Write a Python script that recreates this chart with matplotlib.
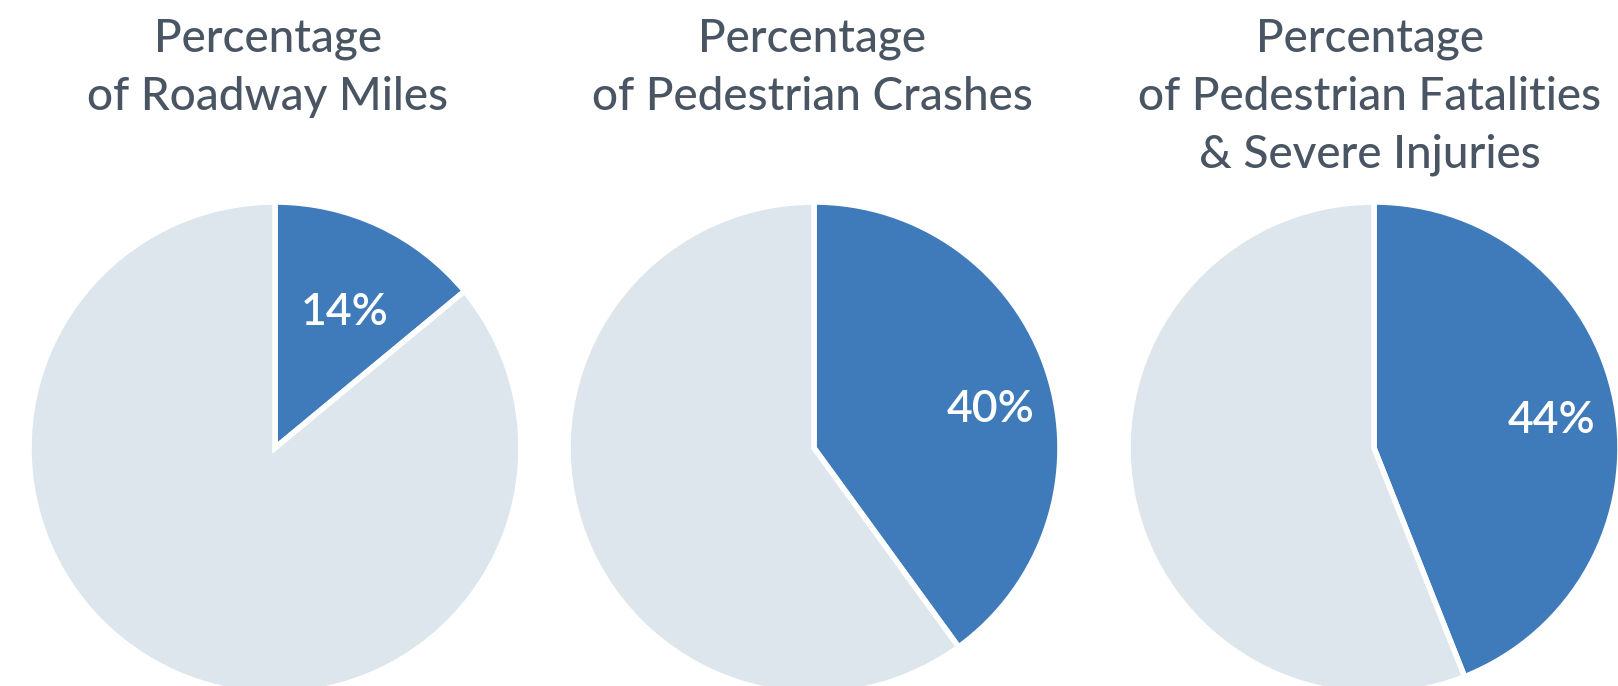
import matplotlib.pyplot as plt

plt.rcParams['font.family'] = ['Lato', 'DejaVu Sans']

titles = ['Percentage\nof Roadway Miles',
          'Percentage\nof Pedestrian Crashes',
          'Percentage\nof Pedestrian Fatalities\n& Severe Injuries']
shares = [14, 40, 44]
labels = ['14%', '40%', '44%']

blue = '#3f7bba'
light = '#dce6ec'
text_col = '#4a5563'

W, H = 1618, 686
fig = plt.figure(figsize=(W / 100, H / 100), dpi=100)

# pie centres / radius in pixels (from the reference)
centres = [(275, 448), (814, 448), (1374, 448)]
R = 246
title_x = [268, 812, 1370]
# label offsets relative to the centre, in radius units
label_pos = [(0.285, 0.55), (0.72, 0.155), (0.72, 0.11)]

for i in range(3):
    cx, cy = centres[i]
    ax = fig.add_axes([(cx - R) / W, (H - cy - R) / H, 2 * R / W, 2 * R / H])
    ax.pie([shares[i], 100 - shares[i]], colors=[blue, light],
           startangle=90, counterclock=False, radius=1,
           wedgeprops=dict(edgecolor='white', linewidth=4))
    ax.set_xlim(-1, 1)
    ax.set_ylim(-1, 1)
    ax.set_aspect('equal')
    ax.axis('off')
    lx, ly = label_pos[i]
    ax.text(lx, ly, labels[i], color='white', fontsize=32,
            fontweight='semibold', ha='center', va='center')
    fig.text(title_x[i] / W, 1 - 18 / H, titles[i], color=text_col,
             fontsize=33, fontweight='medium', ha='center', va='top',
             linespacing=1.46)

fig.savefig('out.png', dpi=100)
